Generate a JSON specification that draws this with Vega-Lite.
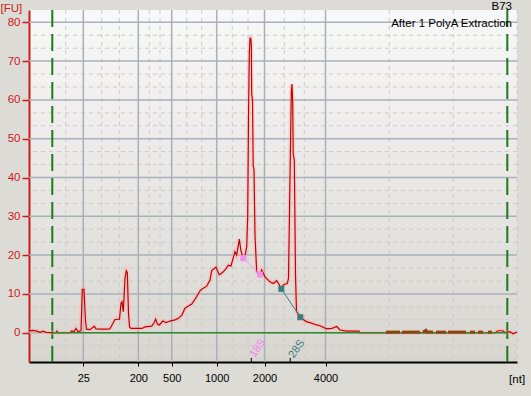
{
  "$schema": "https://vega.github.io/schema/vega-lite/v6.json",
  "width": 488,
  "height": 352,
  "autosize": "none",
  "padding": {"left": 29, "top": 10, "right": 14, "bottom": 34},
  "background": "#dddbd5",
  "config": {
    "font": "Liberation Sans",
    "view": {"stroke": null, "fill": {"gradient": "linear", "x1": 0, "y1": 0, "x2": 0, "y2": 1, "stops": [{"offset": 0, "color": "#f8f8f8"}, {"offset": 1, "color": "#d9d6d0"}]}},
    "axisX": {
      "zindex": 2,
      "grid": false, "domainColor": "#000000", "domainWidth": 2, "tickColor": "#000000", "tickSize": 4, "tickWidth": 1,
      "labelColor": "#000000", "labelFont": "Liberation Sans", "labelFontSize": 11, "labelPadding": 6, "labelFlush": false, "labelOverlap": false,
      "titleFont": "Liberation Sans", "titleFontSize": 11.5, "titleFontWeight": "normal", "titleColor": "#000000",
      "titleX": 487.6, "titleY": 17, "titleAlign": "center", "titleBaseline": "middle"
    },
    "axisY": {
      "zindex": 2,
      "grid": false, "domainColor": "#cc1a1a", "domainWidth": 2, "tickColor": "#cc1a1a", "tickSize": 7, "tickWidth": 1.5,
      "labelColor": "#cc1a1a", "labelFont": "Liberation Sans", "labelFontSize": 11.5, "labelPadding": 2,
      "titleColor": "#cc1a1a", "titleFont": "Liberation Sans", "titleFontSize": 11.5, "titleFontWeight": "normal",
      "titleAngle": 0, "titleAlign": "left", "titleBaseline": "middle", "titleX": -29, "titleY": -2
    }
  },
  "datasets": {
    "trace": [
      {"t":18.0,"v":0.5},{"t":18.4,"v":0.6},{"t":18.8,"v":0.4},{"t":19.1,"v":0.1},{"t":19.4,"v":0.4},{"t":19.7,"v":0.1},{"t":20.3,"v":0},{"t":20.7,"v":0},{"t":20.8,"v":0.4},{"t":20.9,"v":0},{"t":22.1,"v":0},{"t":22.3,"v":0.5},{"t":22.5,"v":0.2},{"t":22.7,"v":1.1},{"t":22.9,"v":0.3},{"t":23.2,"v":0.5},{"t":23.33,"v":11.2},{"t":23.5,"v":11.2},{"t":23.65,"v":3},{"t":23.75,"v":0.9},{"t":24.1,"v":0.8},{"t":24.3,"v":1.2},{"t":24.53,"v":1.7},{"t":24.7,"v":1.0},{"t":25.1,"v":0.9},{"t":25.9,"v":0.9},{"t":26.1,"v":1.0},{"t":26.6,"v":3.4},{"t":27.05,"v":3.5},{"t":27.2,"v":7.6},{"t":27.3,"v":8.0},{"t":27.43,"v":5.4},{"t":27.6,"v":14},{"t":27.73,"v":16},{"t":27.83,"v":15.5},{"t":27.95,"v":5},{"t":28.05,"v":1.5},{"t":28.2,"v":1.1},{"t":29.3,"v":1.1},{"t":29.6,"v":1.5},{"t":30.27,"v":1.7},{"t":30.5,"v":2.5},{"t":30.67,"v":3.5},{"t":30.85,"v":2.2},{"t":31.05,"v":2.0},{"t":31.37,"v":3.0},{"t":31.7,"v":2.6},{"t":32.1,"v":3.0},{"t":32.6,"v":3.3},{"t":32.93,"v":3.7},{"t":33.3,"v":4.6},{"t":33.6,"v":6.3},{"t":33.9,"v":6.8},{"t":34.27,"v":7.4},{"t":34.77,"v":9.3},{"t":35.1,"v":10.8},{"t":35.27,"v":11.2},{"t":35.77,"v":12.0},{"t":36.1,"v":13.6},{"t":36.27,"v":16},{"t":36.5,"v":16.5},{"t":36.7,"v":16.9},{"t":37.03,"v":14.9},{"t":37.43,"v":15.7},{"t":37.7,"v":16.5},{"t":37.93,"v":17.4},{"t":38.2,"v":17.2},{"t":38.6,"v":20.9},{"t":38.77,"v":20.0},{"t":39.03,"v":24.1},{"t":39.2,"v":21},{"t":39.43,"v":19.2},{"t":39.6,"v":19.8},{"t":39.77,"v":22.2},{"t":39.87,"v":30},{"t":39.95,"v":55},{"t":40.03,"v":72},{"t":40.1,"v":75.9},{"t":40.17,"v":75.9},{"t":40.23,"v":74.4},{"t":40.27,"v":61.5},{"t":40.35,"v":60},{"t":40.42,"v":43},{"t":40.5,"v":42},{"t":40.6,"v":25},{"t":40.77,"v":15.7},{"t":40.95,"v":15.5},{"t":41.1,"v":15.0},{"t":41.27,"v":16.2},{"t":41.6,"v":14.4},{"t":42.1,"v":13.1},{"t":42.43,"v":12.7},{"t":42.77,"v":13.4},{"t":43.0,"v":12.5},{"t":43.23,"v":11.3},{"t":43.43,"v":12.3},{"t":43.83,"v":12.7},{"t":43.95,"v":14},{"t":44.13,"v":45},{"t":44.23,"v":62},{"t":44.3,"v":64.1},{"t":44.37,"v":59.5},{"t":44.42,"v":46},{"t":44.53,"v":44.5},{"t":44.65,"v":15},{"t":44.75,"v":5.5},{"t":45.13,"v":4.0},{"t":45.43,"v":3.4},{"t":45.77,"v":2.8},{"t":46.1,"v":2.6},{"t":46.77,"v":2.0},{"t":47.1,"v":1.8},{"t":47.77,"v":1.0},{"t":48.27,"v":1.1},{"t":48.5,"v":1.3},{"t":48.77,"v":1.6},{"t":49.1,"v":0.7},{"t":49.77,"v":0.4},{"t":51.0,"v":0.4},{"t":51.1,"v":0},{"t":64.6,"v":0},{"t":64.9,"v":0.5},{"t":65.4,"v":0.5},{"t":65.6,"v":0},{"t":66.1,"v":0.3},{"t":66.4,"v":-0.3},{"t":66.8,"v":0.2}
    ],
    "brown": [
      {"s":1,"t":53.7,"v":0.15},{"s":1,"t":55.1,"v":0.15},
      {"s":2,"t":55.3,"v":0.15},{"s":2,"t":57.1,"v":0.15},
      {"s":3,"t":57.4,"v":0.15},{"s":3,"t":57.7,"v":0.6},{"s":3,"t":57.8,"v":0.15},{"s":3,"t":58.4,"v":0.15},
      {"s":4,"t":58.7,"v":0.15},{"s":4,"t":59.7,"v":0.15},
      {"s":5,"t":59.9,"v":0.15},{"s":5,"t":61.7,"v":0.15},
      {"s":6,"t":62.1,"v":0.15},{"s":6,"t":62.6,"v":0.15},
      {"s":7,"t":62.9,"v":0.15},{"s":7,"t":63.4,"v":0.15},
      {"s":8,"t":63.9,"v":0.15},{"s":8,"t":64.3,"v":0.15}
    ],
    "hgrid": [
      {"v":-6.67,"k":"minor"},{"v":-3.33,"k":"minor"},{"v":3.33,"k":"minor"},{"v":6.67,"k":"minor"},{"v":13.33,"k":"minor"},{"v":16.67,"k":"minor"},{"v":23.33,"k":"minor"},{"v":26.67,"k":"minor"},{"v":33.33,"k":"minor"},{"v":36.67,"k":"minor"},{"v":43.33,"k":"minor"},{"v":46.67,"k":"minor"},{"v":53.33,"k":"minor"},{"v":56.67,"k":"minor"},{"v":63.33,"k":"minor"},{"v":66.67,"k":"minor"},{"v":73.33,"k":"minor"},{"v":76.67,"k":"minor"},
      {"v":0,"k":"major"},{"v":10,"k":"major"},{"v":20,"k":"major"},{"v":30,"k":"major"},{"v":40,"k":"major"},{"v":50,"k":"major"},{"v":60,"k":"major"},{"v":70,"k":"major"},{"v":80,"k":"major"}
    ],
    "vgrid": [
      {"t":21.67,"k":"minor"},{"t":25.27,"k":"minor"},{"t":27.03,"k":"minor"},{"t":30.03,"k":"minor"},{"t":31.1,"k":"minor"},{"t":33.77,"k":"minor"},{"t":35.27,"k":"minor"},{"t":38.33,"k":"minor"},{"t":39.9,"k":"minor"},{"t":43.53,"k":"minor"},{"t":45.53,"k":"minor"},{"t":54.03,"k":"minor"},{"t":60.43,"k":"minor"},{"t":66.83,"k":"minor"},
      {"t":23.43,"k":"major"},{"t":28.93,"k":"major"},{"t":32.27,"k":"major"},{"t":36.77,"k":"major"},{"t":41.55,"k":"major"},{"t":47.65,"k":"major"}
    ],
    "fit": [
      {"t":39.43,"v":19.2,"g":"18S"},{"t":41.1,"v":15.0,"g":"18S"},
      {"t":43.23,"v":11.3,"g":"28S"},{"t":45.13,"v":4.0,"g":"28S"}
    ],
    "peaks": [
      {"t":40.23,"name":"18S"},{"t":44.12,"name":"28S"}
    ]
  },
  "layer": [
    {
      "data": {"name": "hgrid"},
      "transform": [{"filter": "datum.k === 'minor'"}],
      "mark": {"type": "rule", "color": "#cacaca", "strokeWidth": 1, "strokeDash": [4, 4]},
      "encoding": {"y": {"field": "v", "type": "quantitative", "scale": {"domain": [-7.55, 83.17], "nice": false, "zero": false},
          "axis": {"values": [0, 10, 20, 30, 40, 50, 60, 70, 80], "title": "[FU]"}}}
    },
    {
      "data": {"name": "vgrid"},
      "transform": [{"filter": "datum.k === 'minor'"}],
      "mark": {"type": "rule", "color": "#cacaca", "strokeWidth": 1, "strokeDash": [4, 4]},
      "encoding": {"x": {"field": "t", "type": "quantitative", "scale": {"domain": [18, 66.8], "nice": false, "zero": false},
          "axis": {
            "values": [23.43, 28.93, 32.27, 36.77, 41.55, 47.65],
            "labelExpr": "{'23.43':'25','28.93':'200','32.27':'500','36.77':'1000','41.55':'2000','47.65':'4000'}['' + datum.value]",
            "title": "[nt]"
          }}}
    },
    {
      "data": {"name": "hgrid"},
      "transform": [{"filter": "datum.k === 'major'"}],
      "mark": {"type": "rule", "color": "#a9b0bb", "strokeWidth": 1.5},
      "encoding": {"y": {"field": "v", "type": "quantitative"}}
    },
    {
      "data": {"name": "vgrid"},
      "transform": [{"filter": "datum.k === 'major'"}],
      "mark": {"type": "rule", "color": "#a9b0bb", "strokeWidth": 1.5},
      "encoding": {"x": {"field": "t", "type": "quantitative"}}
    },
    {
      "data": {"values": [{"t": 20.33}, {"t": 65.83}]},
      "mark": {"type": "rule", "color": "#1d7a1d", "strokeWidth": 2, "strokeDash": [17, 7]},
      "encoding": {"x": {"field": "t", "type": "quantitative"}}
    },
    {
      "data": {"name": "trace"},
      "mark": {"type": "line", "color": "#ffa8a8", "strokeWidth": 4.5, "opacity": 0.35, "strokeJoin": "miter"},
      "encoding": {
        "x": {"field": "t", "type": "quantitative"},
        "y": {"field": "v", "type": "quantitative"}
      }
    },
    {
      "data": {"name": "trace"},
      "mark": {"type": "line", "color": "#c40000", "strokeWidth": 1.2, "strokeJoin": "miter"},
      "encoding": {
        "x": {"field": "t", "type": "quantitative"},
        "y": {"field": "v", "type": "quantitative"}
      }
    },
    {
      "data": {"values": [{}]},
      "mark": {"type": "rule", "color": "#2e8b2e", "strokeWidth": 1.5},
      "encoding": {
        "x": {"datum": 20.33, "type": "quantitative"},
        "x2": {"datum": 65.83},
        "y": {"datum": 0, "type": "quantitative"}
      }
    },
    {
      "data": {"name": "brown"},
      "mark": {"type": "line", "color": "#8b4513", "strokeWidth": 3},
      "encoding": {
        "x": {"field": "t", "type": "quantitative"},
        "y": {"field": "v", "type": "quantitative"},
        "detail": {"field": "s", "type": "nominal"}
      }
    },
    {
      "data": {"name": "fit"},
      "mark": {"type": "line", "strokeWidth": 1},
      "encoding": {
        "x": {"field": "t", "type": "quantitative"},
        "y": {"field": "v", "type": "quantitative"},
        "color": {"field": "g", "type": "nominal", "scale": {"domain": ["18S", "28S"], "range": ["#f090f0", "#3d7d7d"]}, "legend": null}
      }
    },
    {
      "data": {"name": "fit"},
      "mark": {"type": "point", "shape": "square", "filled": true, "size": 36, "opacity": 1},
      "encoding": {
        "x": {"field": "t", "type": "quantitative"},
        "y": {"field": "v", "type": "quantitative"},
        "color": {"field": "g", "type": "nominal", "legend": null}
      }
    },
    {
      "data": {"name": "peaks"},
      "mark": {"type": "rule", "color": "#000000", "strokeWidth": 1},
      "encoding": {
        "x": {"field": "t", "type": "quantitative"},
        "y": {"datum": -7.55, "type": "quantitative"},
        "y2": {"datum": -6.5}
      }
    },
    {
      "data": {"values": [{"label": "18S"}]},
      "mark": {"type": "text", "color": "#f080f0", "fontSize": 11, "angle": -55, "align": "center", "baseline": "middle"},
      "encoding": {
        "x": {"datum": 40.9, "type": "quantitative"},
        "y": {"datum": -4.0, "type": "quantitative"},
        "text": {"field": "label"}
      }
    },
    {
      "data": {"values": [{"label": "28S"}]},
      "mark": {"type": "text", "color": "#3a7a7a", "fontSize": 11, "angle": -55, "align": "center", "baseline": "middle"},
      "encoding": {
        "x": {"datum": 44.8, "type": "quantitative"},
        "y": {"datum": -4.2, "type": "quantitative"},
        "text": {"field": "label"}
      }
    },
    {
      "data": {"values": [{"label": "B73"}]},
      "mark": {"type": "text", "color": "#000000", "fontSize": 11.5, "align": "right", "baseline": "middle"},
      "encoding": {
        "x": {"datum": 66.3, "type": "quantitative"},
        "y": {"datum": 83.9, "type": "quantitative"},
        "text": {"field": "label"}
      }
    },
    {
      "data": {"values": [{"label": "After 1 PolyA Extraction"}]},
      "mark": {"type": "text", "color": "#000000", "fontSize": 11.5, "align": "right", "baseline": "middle"},
      "encoding": {
        "x": {"datum": 66.3, "type": "quantitative"},
        "y": {"datum": 79.5, "type": "quantitative"},
        "text": {"field": "label"}
      }
    }
  ]
}
